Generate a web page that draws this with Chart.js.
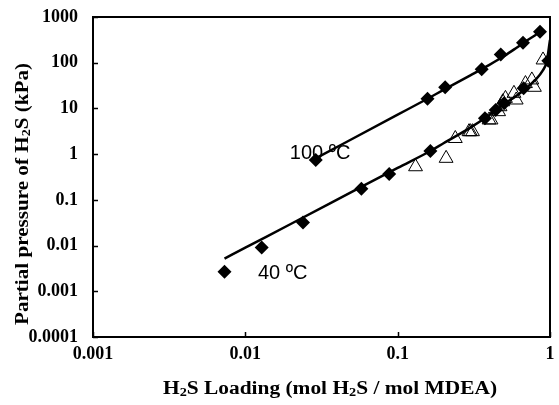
<!DOCTYPE html>
<html>
<head>
<meta charset="utf-8">
<script src="https://cdn.jsdelivr.net/npm/chart.js@4/dist/chart.umd.min.js"></script>
<style>
  body { margin: 0; background: #fff; }
</style>
</head>
<body>
<canvas id="vleChart" width="559" height="405"></canvas>
<script>
// measured data, 100 C (diamonds)
const load100 = [0.029, 0.157, 0.205, 0.356, 0.475, 0.665, 0.86];
const press100 = [0.74, 16.3, 28.9, 71.7, 152, 274, 477];

// measured data, 40 C (diamonds)
const load40 = [0.0073, 0.0128, 0.0239, 0.0578, 0.088, 0.164, 0.374, 0.44, 0.50, 0.671, 0.975];
const press40 = [0.00267, 0.0091, 0.032, 0.175, 0.367, 1.17, 6.07, 9.2, 12.9, 27.5, 111];

// other 40 C data (open triangles)
const loadTri = [0.131, 0.208, 0.239, 0.294, 0.30, 0.31, 0.398, 0.41, 0.46, 0.47, 0.49, 0.51, 0.58, 0.60, 0.69, 0.76, 0.79, 0.90];
const pressTri = [0.53, 0.81, 2.2, 3.1, 3.1, 3.1, 5.6, 5.6, 8.5, 10.9, 14, 16.6, 21.4, 15.3, 35, 42, 29, 115];

// model curves
const fitLoad100 = [0.03, 0.1, 0.157, 0.2, 0.3, 0.4, 0.5, 0.6, 0.7, 0.8, 0.87];
const fitPress100 = [0.86, 7.3, 16.3, 25.5, 53, 90, 140, 210, 300, 400, 490];
const fitLoad40 = [0.0073, 0.01, 0.02, 0.05, 0.1, 0.164, 0.2, 0.3, 0.4, 0.5, 0.6, 0.7, 0.8, 0.9, 0.95, 1.0];
const fitPress40 = [0.0052, 0.009, 0.030, 0.149, 0.50, 1.17, 1.73, 3.8, 7.2, 12.5, 18.7, 28, 42, 69, 103, 315];

// axis ticks
const xTicks = [0.001, 0.01, 0.1, 1];
const xTickLabels = ["0.001", "0.01", "0.1", "1"];
const yTicks = [0.0001, 0.001, 0.01, 0.1, 1, 10, 100, 1000];
const yTickLabels = ["0.0001", "0.001", "0.01", "0.1", "1", "10", "100", "1000"];

// curve labels (text, loading, pressure at baseline-left)
const curveLabels = [
  { text: "100 \u00BAC", x: 0.0196, y: 0.8 },
  { text: "40 \u00BAC", x: 0.0121, y: 0.0019 }
];

const toPoints = (xs, ys) => xs.map((x, i) => ({ x: x, y: ys[i] }));

// draw text with "2" subscripts centred on 0,0, stretched to a given width
function drawRich(ctx, pieces, size, width) {
  const full = "bold " + size + "px 'Liberation Serif', serif";
  const sub = "bold " + Math.round(size * 0.65) + "px 'Liberation Serif', serif";
  let total = 0;
  pieces.forEach(p => { ctx.font = p[1] ? sub : full; total += ctx.measureText(p[0]).width; });
  ctx.scale(width / total, 1);
  let x = -total / 2;
  pieces.forEach(p => {
    ctx.font = p[1] ? sub : full;
    ctx.fillText(p[0], x, p[1] ? size * 0.22 : 0);
    x += ctx.measureText(p[0]).width;
  });
}

const framePlugin = {
  id: "frame",
  afterDraw(chart) {
    const ctx = chart.ctx;
    const a = chart.chartArea;
    const xs = chart.scales.x, ys = chart.scales.y;
    ctx.save();
    ctx.strokeStyle = "#000";
    ctx.lineWidth = 2;
    ctx.strokeRect(a.left, a.top, a.right - a.left, a.bottom - a.top);
    // inside tick marks
    ctx.lineWidth = 1.5;
    ctx.beginPath();
    xTicks.forEach(v => {
      const px = Math.round(xs.getPixelForValue(v)) + 0.5;
      ctx.moveTo(px, a.bottom);
      ctx.lineTo(px, a.bottom - 5);
    });
    yTicks.forEach(v => {
      const py = Math.round(ys.getPixelForValue(v)) + 0.5;
      ctx.moveTo(a.left, py);
      ctx.lineTo(a.left + 5, py);
    });
    ctx.stroke();

    // curve labels
    ctx.fillStyle = "#000";
    ctx.font = "20px 'Liberation Sans', Arial, sans-serif";
    ctx.textBaseline = "alphabetic";
    ctx.textAlign = "left";
    curveLabels.forEach(l => {
      ctx.fillText(l.text, xs.getPixelForValue(l.x), ys.getPixelForValue(l.y));
    });

    // axis titles
    ctx.textBaseline = "middle";
    ctx.textAlign = "left";
    ctx.save();
    ctx.translate(330, 389);
    drawRich(ctx, [["H", false], ["2", true], ["S Loading (mol H", false], ["2", true], ["S / mol MDEA)", false]], 18, 334);
    ctx.restore();

    ctx.save();
    ctx.translate(23, 194);
    ctx.rotate(-Math.PI / 2);
    drawRich(ctx, [["Partial pressure of H", false], ["2", true], ["S (kPa)", false]], 18, 262);
    ctx.restore();
    ctx.restore();
  }
};

const ctx = document.getElementById("vleChart").getContext("2d");
new Chart(ctx, {
  type: "scatter",
  data: {
    datasets: [
      {
        label: "100 C model",
        data: toPoints(fitLoad100, fitPress100),
        showLine: true,
        borderColor: "#000",
        borderWidth: 2.5,
        pointRadius: 0,
        cubicInterpolationMode: "monotone"
      },
      {
        label: "40 C model",
        data: toPoints(fitLoad40, fitPress40),
        showLine: true,
        borderColor: "#000",
        borderWidth: 2.5,
        pointRadius: 0,
        cubicInterpolationMode: "monotone"
      },
      {
        label: "40 C other",
        data: toPoints(loadTri, pressTri),
        pointStyle: "triangle",
        pointRadius: 8,
        backgroundColor: "rgba(255,255,255,0)",
        borderColor: "#000",
        borderWidth: 1
      },
      {
        label: "100 C",
        data: toPoints(load100, press100),
        pointStyle: "rectRot",
        pointRadius: 7,
        backgroundColor: "#000",
        borderColor: "#000",
        borderWidth: 0
      },
      {
        label: "40 C",
        data: toPoints(load40, press40),
        pointStyle: "rectRot",
        pointRadius: 7,
        backgroundColor: "#000",
        borderColor: "#000",
        borderWidth: 0
      }
    ]
  },
  options: {
    responsive: false,
    animation: false,
    layout: { padding: { top: 17, right: 4, left: 0, bottom: 0 } },
    plugins: {
      legend: { display: false },
      tooltip: { enabled: false }
    },
    scales: {
      x: {
        type: "logarithmic",
        min: 0.001,
        max: 1,
        grid: { display: false, drawTicks: false },
        border: { display: false },
        afterBuildTicks: s => { s.ticks = xTicks.map(v => ({ value: v })); },
        afterFit: s => { s.height = 68; s.paddingLeft = 0; s.paddingRight = 0; },
        ticks: {
          autoSkip: false,
          maxRotation: 0,
          padding: 7,
          color: "#000",
          font: { family: "'Liberation Serif', serif", size: 18, weight: "bold" },
          callback: (v, i) => xTickLabels[i]
        }
      },
      y: {
        type: "logarithmic",
        min: 0.0001,
        max: 1000,
        grid: { display: false, drawTicks: false },
        border: { display: false },
        afterBuildTicks: s => { s.ticks = yTicks.map(v => ({ value: v })); },
        afterFit: s => { s.width = 93; s.paddingTop = 0; s.paddingBottom = 0; },
        ticks: {
          autoSkip: false,
          padding: 15,
          color: "#000",
          font: { family: "'Liberation Serif', serif", size: 18, weight: "bold" },
          callback: (v, i) => yTickLabels[i]
        }
      }
    }
  },
  plugins: [framePlugin]
});
</script>
</body>
</html>
